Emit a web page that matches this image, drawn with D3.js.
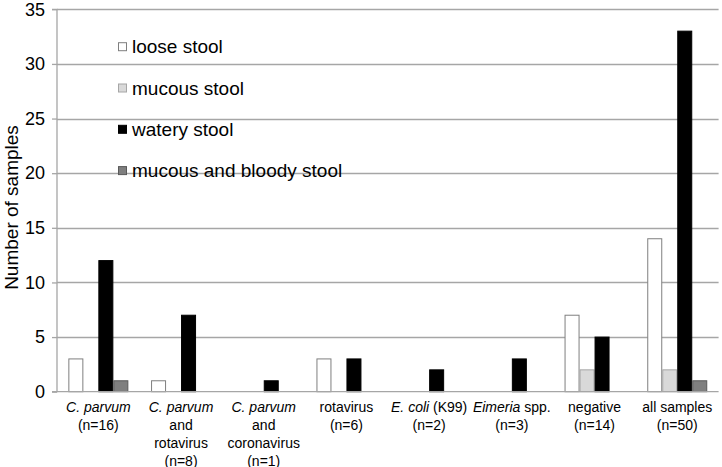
<!DOCTYPE html>
<html>
<head>
<meta charset="utf-8">
<script src="https://cdn.jsdelivr.net/npm/d3@7"></script>
<style>
  html, body { margin: 0; padding: 0; background: #fff; }
  svg { display: block; font-family: "Liberation Sans", Arial, sans-serif; }
</style>
</head>
<body>
<svg id="chart" width="722" height="467"></svg>
<script>
// ---- data ----
const categories = ["C. parvum", "C. parvum and rotavirus", "C. parvum and coronavirus", "rotavirus",
                    "E. coli (K99)", "Eimeria spp.", "negative", "all samples"];
const seriesNames = ["loose stool", "mucous stool", "watery stool", "mucous and bloody stool"];
const looseStool   = [3, 1, 0, 3, 0, 0, 7, 14];
const mucousStool  = [0, 0, 0, 0, 0, 0, 2, 2];
const wateryStool  = [12, 7, 1, 3, 2, 3, 5, 33];
const bloodyStool  = [1, 0, 0, 0, 0, 0, 0, 1];
const yTicks = [0, 5, 10, 15, 20, 25, 30, 35];
// category label lines: arrays of [text, italic] segments per line
const categoryLabels = [
  [[["C. parvum", true]], [["(n=16)", false]]],
  [[["C. parvum", true]], [["and", false]], [["rotavirus", false]], [["(n=8)", false]]],
  [[["C. parvum", true]], [["and", false]], [["coronavirus", false]], [["(n=1)", false]]],
  [[["rotavirus", false]], [["(n=6)", false]]],
  [[["E. coli", true], [" (K99)", false]], [["(n=2)", false]]],
  [[["Eimeria", true], [" spp.", false]], [["(n=3)", false]]],
  [[["negative", false]], [["(n=14)", false]]],
  [[["all samples", false]], [["(n=50)", false]]]
];

(function () {
const seriesValues = [looseStool, mucousStool, wateryStool, bloodyStool];
const fills = ["#ffffff", "#d9d9d9", "#000000", "#7f7f7f"];
const strokes = ["#7f7f7f", "#a6a6a6", "#000000", "#595959"];

const svg = d3.select("#chart");
const pl = 57, pr = 718.6, pt = 9.3, pb = 391.7;

const x0 = d3.scaleBand().domain(categories).range([pl, pr]).paddingInner(0).paddingOuter(0);
const x1 = d3.scaleBand().domain(seriesNames).range([0, x0.bandwidth()]).paddingInner(0).paddingOuter(0.757);
const y = d3.scaleLinear().domain([0, 35]).range([pb, pt]);

// gridlines
svg.append("g").selectAll("line").data(yTicks.filter(d => d > 0)).join("line")
  .attr("x1", pl).attr("x2", pr)
  .attr("y1", d => Math.round(y(d)) + 0.5).attr("y2", d => Math.round(y(d)) + 0.5)
  .attr("stroke", "#a6a6a6").attr("stroke-width", 1.3);

// bars
const g = svg.append("g");
seriesValues.forEach((vals, si) => {
  g.append("g").selectAll("rect").data(vals.map((v, i) => ({v, c: categories[i]})).filter(d => d.v > 0)).join("rect")
    .attr("x", d => x0(d.c) + x1(seriesNames[si]) + 0.5)
    .attr("y", d => y(d.v))
    .attr("width", x1.bandwidth() - 1)
    .attr("height", d => pb - y(d.v))
    .attr("fill", fills[si])
    .attr("stroke", strokes[si])
    .attr("stroke-width", 1);
});

// y axis
const yAxis = d3.axisLeft(y).tickValues(yTicks).tickSize(5).tickPadding(7);
const ya = svg.append("g").attr("transform", `translate(${pl},0)`).call(yAxis);
ya.select(".domain").attr("stroke", "#a6a6a6").attr("stroke-width", 1.3).attr("d", `M-5,${pt}H0V${pb}H-5`);
ya.selectAll(".tick line").attr("stroke", "#a6a6a6").attr("stroke-width", 1.3);
ya.selectAll(".tick text").attr("font-size", 18).attr("fill", "#000")
  .attr("font-family", "Liberation Sans, Arial, sans-serif");

// baseline
svg.append("line").attr("x1", pl).attr("x2", pr).attr("y1", pb).attr("y2", pb)
  .attr("stroke", "#a6a6a6").attr("stroke-width", 1.3);

// y axis title
svg.append("text").attr("transform", `translate(18,${(pt + pb) / 2 + 7}) rotate(-90)`)
  .attr("text-anchor", "middle").attr("font-size", 19).attr("fill", "#000").text("Number of samples");

// x category labels
categoryLabels.forEach((lines, i) => {
  const cx = x0(categories[i]) + x0.bandwidth() / 2;
  lines.forEach((segs, li) => {
    const t = svg.append("text").attr("x", cx).attr("y", 411.5 + li * 18)
      .attr("text-anchor", "middle").attr("font-size", 14).attr("fill", "#000");
    segs.forEach(([s, it]) => {
      t.append("tspan").attr("font-style", it ? "italic" : "normal").text(s);
    });
  });
});

// legend
const lg = svg.append("g");
seriesNames.forEach((name, i) => {
  const cy = 46.7 + i * 41.3;
  lg.append("rect").attr("x", 118.5).attr("y", cy - 4).attr("width", 8).attr("height", 8)
    .attr("fill", fills[i]).attr("stroke", strokes[i]).attr("stroke-width", 1);
  lg.append("text").attr("x", 132).attr("y", cy + 6.6).attr("font-size", 19).attr("fill", "#000").text(name);
});
})();
</script>
</body>
</html>
